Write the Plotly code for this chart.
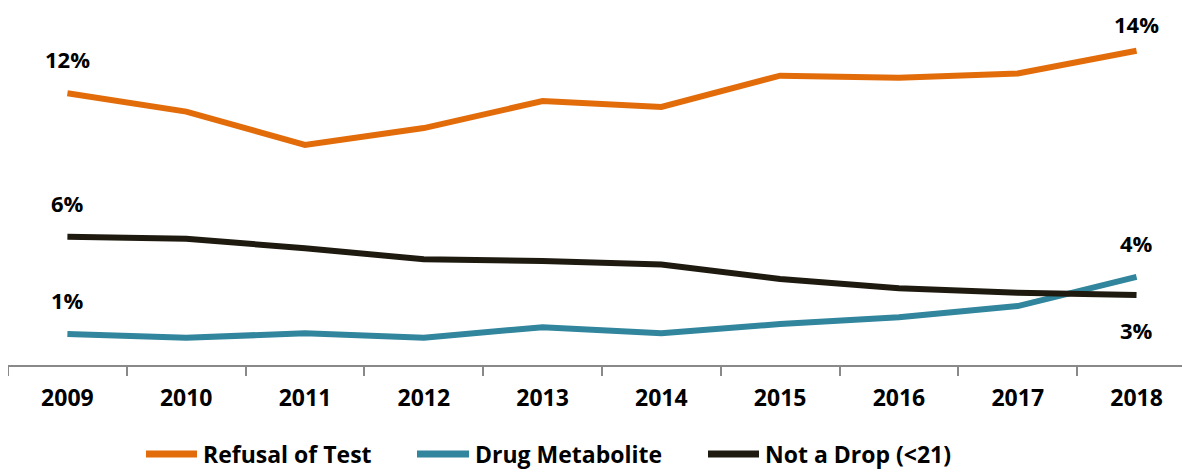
import plotly.graph_objects as go

years = ["2009", "2010", "2011", "2012", "2013", "2014", "2015", "2016", "2017", "2018"]
refusal = [12.08, 11.26, 9.78, 10.53, 11.73, 11.47, 12.86, 12.77, 12.96, 13.97]
drug = [1.38, 1.21, 1.41, 1.21, 1.68, 1.41, 1.82, 2.12, 2.62, 3.92]
not_a_drop = [5.70, 5.61, 5.19, 4.70, 4.62, 4.47, 3.82, 3.41, 3.21, 3.11]

series_names = ["Refusal of Test", "Drug Metabolite", "Not a Drop (<21)"]
series_values = [refusal, drug, not_a_drop]
series_colors = ["#E36C0A", "#31859C", "#1F1A10"]

FONT = "Open Sans, Lato, Liberation Sans, sans-serif"

# page offset of the plot div (browser default body margin)
OFF = 8
W, H = 1190 - OFF, 472 - OFF
ML, MT = 0, 16 - OFF
PLOT_BOTTOM = 365 - OFF
MB = H - PLOT_BOTTOM
PH = PLOT_BOTTOM - MT
PW = W - ML


def px_x(p):
    return (p - OFF - ML) / PW


def px_y(q):
    return (PLOT_BOTTOM - (q - OFF)) / PH


fig = go.Figure()
for name, vals, color in zip(series_names, series_values, series_colors):
    fig.add_trace(go.Scatter(
        x=list(range(len(years))), y=vals, mode="lines", name=name,
        line=dict(color=color, width=6), showlegend=False,
    ))

# start / end value labels
label_specs = [
    (refusal, 34, 27),
    (not_a_drop, 34, -35),
    (drug, 34, 34),
]
for vals, s0, s1 in label_specs:
    for idx, shift in ((0, s0), (len(years) - 1, s1)):
        fig.add_annotation(
            x=idx, y=vals[idx], xref="x", yref="y",
            text=f"{round(vals[idx]):.0f}%",
            showarrow=False, yshift=shift, xanchor="center", yanchor="middle",
            font=dict(family=FONT, size=22, color="#000000", weight="bold"),
        )

# custom legend (long line swatches like the reference)
legend_line_x = [(143, 200), (414, 472), (705, 762)]
legend_y = 454
for (x0, x1), name, color in zip(legend_line_x, series_names, series_colors):
    fig.add_shape(type="line", xref="paper", yref="paper",
                  x0=px_x(x0 + 3), x1=px_x(x1 - 3), y0=px_y(legend_y), y1=px_y(legend_y),
                  line=dict(color=color, width=7))
    fig.add_annotation(xref="paper", yref="paper", x=px_x(x1 + 1), y=px_y(legend_y),
                       text=name, showarrow=False, xanchor="left", yanchor="middle",
                       font=dict(family=FONT, size=23, color="#000000", weight="bold"))

fig.update_layout(
    width=W, height=H,
    margin=dict(l=ML, r=0, t=MT, b=MB, autoexpand=False),
    paper_bgcolor="white", plot_bgcolor="white",
    showlegend=False,
)
fig.update_xaxes(
    showgrid=False, zeroline=False,
    showline=True, linecolor="#898989", linewidth=1.5,
    tickmode="array", tickvals=list(range(len(years))), ticktext=years,
    ticks="", ticklabelstandoff=12,
    tickfont=dict(family=FONT, size=23, color="#000000", weight="bold"),
    range=[-0.5, 9.45],
    minor=dict(tickmode="array", tickvals=[i - 0.5 for i in range(len(years) + 1)],
               ticks="outside", ticklen=9, tickcolor="#898989", tickwidth=1.5, showgrid=False),
)
fig.update_yaxes(visible=False, range=[0, PH / 22.5], showgrid=False, zeroline=False)

fig.write_html("out.html")
